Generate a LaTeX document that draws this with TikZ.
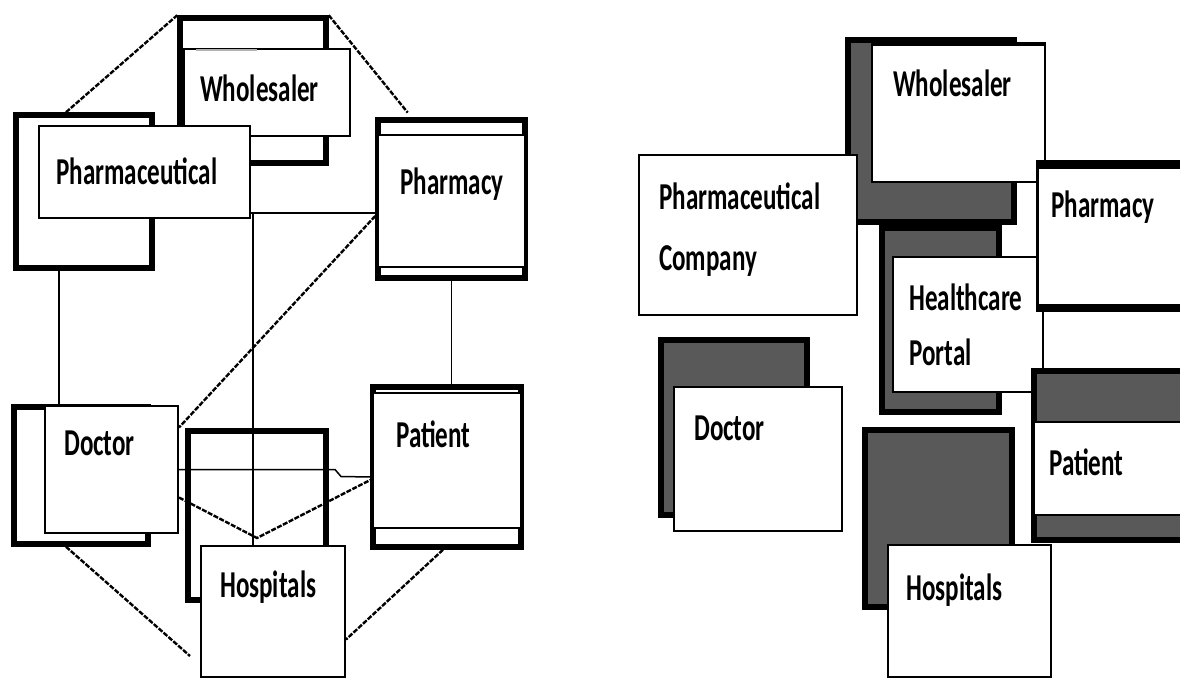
\documentclass[tikz,border=0pt]{standalone}
\usepackage{fontspec}
\newfontfamily\labelfont{Carlito}[FakeStretch=0.66]

\begin{document}
\begin{tikzpicture}[x=1pt, y=-1pt,
	heavy/.style={draw, line width=5.5pt, fill=white, inner sep=0pt},
	hollow/.style={draw, line width=5.5pt, inner sep=0pt},
	plain/.style={draw, line width=2pt, fill=white, inner sep=0pt},
	shaded/.style={draw, line width=5.5pt, fill=black!65, inner sep=0pt},
	word/.style={anchor=base west, inner sep=0pt, font=\labelfont\bfseries\fontsize{38}{40}\selectfont},
	link/.style={line width=1.5pt},
	dlink/.style={line width=2.4pt, dash pattern=on 5pt off 1.5pt}]
	\clip (0,0) rectangle (1180,679);

	%% Left picture -- boxes drawn back to front
	\node at (253,90.5) [heavy, minimum width=146pt, minimum height=145pt] (lwhback) {};
	\node at (267,92.5) [plain, minimum width=166pt, minimum height=87pt] (lwhfront) {};
	\draw [gray!60, line width=2pt] ([xshift=13pt,yshift=-2pt]lwhfront.north west) -- ++(61,0);	% the small tab
	\node at (84,191.5) [heavy, minimum width=136pt, minimum height=153pt] (lphback) {};
	\node at (144.5,172) [plain, minimum width=211pt, minimum height=92pt] (lphfront) {};
	\node at (451.5,199) [heavy, minimum width=147pt, minimum height=158pt] (lpharmacy) {};
	\node at (451.5,201) [plain, minimum width=147pt, minimum height=132pt] (lpharmacyin) {};
	\node at (81,475.5) [heavy, minimum width=134pt, minimum height=137pt] (ldocback) {};
	\node at (111.5,469.5) [plain, minimum width=133pt, minimum height=127pt] (ldocfront) {};
	\node at (257,515.5) [hollow, minimum width=138pt, minimum height=169pt] (lhosback) {};	% lines show through
	\node at (273,611.5) [plain, minimum width=144pt, minimum height=131pt] (lhosfront) {};
	\node at (447,467) [heavy, minimum width=148pt, minimum height=160pt] (lpatient) {};
	\node at (447,460.5) [plain, minimum width=148pt, minimum height=135pt] (lpatientin) {};

	%% Left picture -- labels
	\node at (200,102) [word] (twhole) {Wholesaler};
	\node at (56,185) [word] (tpharma) {Pharmaceutical};
	\node at (400,195) [word] (tpharmacy) {Pharmacy};
	\node at (64,455) [word] (tdoctor) {Doctor};
	\node at (396,447) [word] (tpatient) {Patient};
	\node at (220,597) [word] (thospital) {Hospitals};

	%% Left picture -- plain connectors
	\coordinate (pdrop) at ([xshift=-25pt]lphback.south);
	\draw [link] (pdrop) -- (pdrop |- ldocback.north);
	\draw [link] (lpharmacy.south) -- (lpharmacy.south |- lpatient.north);
	\coordinate (jn) at ([yshift=6pt]lphfront.south east);
	\coordinate (jd) at ([xshift=2pt]jn);
	\draw [link] (jn) -- (jn -| lpharmacy.west);
	\draw [link] (jd) -- (jd |- lhosfront.north);
	\draw [link] (ldocfront.east) -- ++(156,0) -- ++(6,7) -- ([yshift=-10pt]lpatient.west);

	%% Left picture -- dashed connectors
	\coordinate (vtip) at (257,538);
	\coordinate (hosleft) at (190,656);
	\draw [dlink] ([xshift=-18pt]lphback.north) -- (lwhback.north west);
	\draw [dlink, shorten >=6pt] (lwhback.north east) -- ([xshift=-40pt]lpharmacy.north);
	\draw [dlink] ([yshift=-17pt]lpharmacy.west) -- ([yshift=42pt]ldocfront.east);
	\draw [dlink] ([yshift=-28pt]ldocfront.east) -- (vtip) -- ([yshift=-13pt]lpatient.west);
	\draw [dlink] ([xshift=-15pt]ldocback.south) -- (hosleft);
	\draw [dlink] ([xshift=-4pt]lpatient.south) -- ([yshift=-28pt]lhosfront.east);

	%% Right picture -- boxes drawn back to front
	\node at (931,131) [shaded, minimum width=166pt, minimum height=182pt] (rwhback) {};
	\node at (958.5,113.5) [plain, minimum width=173pt, minimum height=137pt] (rwhfront) {};
	\draw [line width=4.5pt] (rwhfront.north west) -- (rwhfront.north east);
	\node at (748,235) [plain, minimum width=218pt, minimum height=160pt] (rcompany) {};
	\node at (940.5,320) [shaded, minimum width=117pt, minimum height=184pt] (rportback) {};
	\node at (968,324.5) [plain, minimum width=150pt, minimum height=135pt] (rportfront) {};
	\node at (1118,236) [fill=black, inner sep=0pt, minimum width=164pt, minimum height=152pt] (rphback) {};	% thick top and bottom only
	\node at (1119,236.5) [plain, minimum width=162pt, minimum height=137pt] (rphfront) {};
	\node at (734,427.5) [shaded, minimum width=146pt, minimum height=175pt] (rdocback) {};
	\node at (758,459) [plain, minimum width=168pt, minimum height=144pt] (rdocfront) {};
	\node at (1117,455.5) [shaded, minimum width=166pt, minimum height=169pt] (rpatback) {};
	\node at (1117,468.5) [plain, minimum width=166pt, minimum height=93pt] (rpatfront) {};
	\node at (938.5,518.5) [shaded, minimum width=147pt, minimum height=177pt] (rhosback) {};
	\node at (969.5,611) [plain, minimum width=163pt, minimum height=132pt] (rhosfront) {};

	%% Right picture -- labels
	\node at (893,97) [word] (rtwhole) {Wholesaler};
	\node at (659,210) [word] (rtpharma) {Pharmaceutical};
	\node at (659,270) [word] (rtcompany) {Company};
	\node at (1051,218) [word] (rtpharmacy) {Pharmacy};
	\node at (909,310) [word] (rthealth) {Healthcare};
	\node at (909,365) [word] (rtportal) {Portal};
	\node at (694,440) [word] (rtdoctor) {Doctor};
	\node at (1049,475) [word] (rtpatient) {Patient};
	\node at (906,600) [word] (rthospital) {Hospitals};
\end{tikzpicture}
\end{document}
